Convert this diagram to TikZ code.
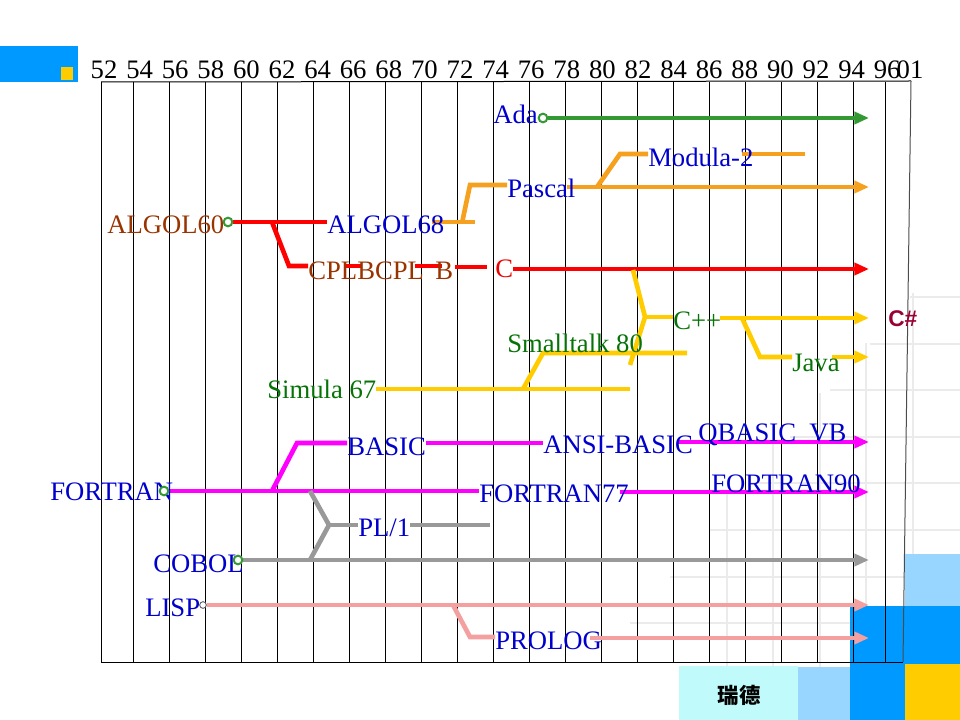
\documentclass[tikz,border=0pt]{standalone}
\usepackage{fontspec}
\setmainfont{Liberation Serif}
\newfontfamily\sharpfont{Liberation Sans}
\newfontfamily\cjkfont{Noto Sans CJK SC}
\usetikzlibrary{arrows.meta}
\definecolor{txtblue}{HTML}{0000CC}
\definecolor{txtbrown}{HTML}{993300}
\definecolor{txtgreen}{HTML}{077307}
\definecolor{txtred}{HTML}{EE0000}
\definecolor{txtsharp}{HTML}{990033}
\definecolor{lgreen}{HTML}{339933}
\definecolor{lorange}{HTML}{F5A01E}
\definecolor{lred}{HTML}{FF0000}
\definecolor{lyellow}{HTML}{FFCC00}
\definecolor{lmagenta}{HTML}{FF00FF}
\definecolor{lgray}{HTML}{999999}
\definecolor{lpink}{HTML}{F5A0A0}
\definecolor{decoblue}{HTML}{0099FF}
\definecolor{decosky}{HTML}{99D6FF}
\definecolor{decocyan}{HTML}{C0FAFA}
\definecolor{decoyellow}{HTML}{FFCC00}
\pgfdeclarelayer{deco}
\pgfdeclarelayer{tracks}
\pgfsetlayers{deco,tracks,main}

\begin{document}
\begin{tikzpicture}[x=.75pt,y=-.75pt,
    lang/.style={anchor=west,inner sep=0pt,font=\fontsize{20}{22}\selectfont},
    year/.style={inner sep=0pt,font=\fontsize{20}{22}\selectfont},
    track/.style={line width=3.5pt},
    arr/.style={track,-{Triangle[length=11pt,width=9pt]}},
    ring/.style={circle,draw=#1,fill=white,line width=1.5pt,minimum size=6.5pt,inner sep=0pt},
    gridline/.style={line width=.75pt},
    faint/.style={black!8,line width=1.5pt}]
  \useasboundingbox (0,0) rectangle (960,720);

  % years along the top
  \foreach \yr [count=\i from 0] in {52,54,...,96}
    \node[year] (yr\yr) at (104+35.6*\i,69.5) {\yr};
  \node[year] (yr01) at (910,69.5) {01};

  % languages
  \node[lang,txtblue] (ada) at (493,114) {Ada};
  \node[lang,txtblue] (modula) at (648,157) {Modula-2};
  \node[lang,txtblue] (pascal) at (507,188) {Pascal};
  \node[lang,txtbrown] (algolsixty) at (107,225) {ALGOL60};
  \node[lang,txtblue] (algolsixtyeight) at (327,225) {ALGOL68};
  \node[lang,txtbrown] (cpl) at (308,271) {CPL};
  \node[lang,txtbrown] (bcpl) at (357,271) {BCPL};
  \node[lang,txtbrown] (b) at (435,271) {B};
  \node[lang,txtred] (c) at (495,269) {C};
  \node[lang,txtgreen] (cpp) at (673,321) {C++};
  \node[lang,txtgreen] (smalltalk) at (507,343) {Smalltalk 80};
  \node[lang,txtgreen] (java) at (792,363) {Java};
  \node[lang,txtgreen] (simula) at (267,389) {Simula 67};
  \node[anchor=west,inner sep=0pt,font=\sharpfont\bfseries\fontsize{17}{19}\selectfont,txtsharp] (csharp) at (888,319) {C\#};
  \node[lang,txtblue] (basic) at (347,447) {BASIC};
  \node[lang,txtblue] (ansibasic) at (543,445) {ANSI-BASIC};
  \node[lang,txtblue] (qbasic) at (698,435) {QBASIC\ \ VB};
  \node[lang,txtblue] (fortran) at (50,492) {FORTRAN};
  \node[lang,txtblue] (fortranss) at (479,494) {FORTRAN77};
  \node[lang,txtblue] (fortrann) at (711,484) {FORTRAN90};
  \node[lang,txtblue] (plone) at (358,528) {PL/1};
  \node[lang,txtblue] (cobol) at (153,564) {COBOL};
  \node[lang,txtblue] (lisp) at (145,608) {LISP};
  \node[lang,txtblue] (prolog) at (495,641) {PROLOG};
  \node[font=\cjkfont\bfseries\fontsize{16}{18}\selectfont] (ruide) at (739,695) {瑞德};

  % start marks
  \node[ring=lgreen] (adadot) at (543,118) {};
  \node[ring=lgreen] (algoldot) at (228,222) {};
  \node[ring=lgreen] (fortrandot) at (164,491) {};
  \node[ring=lgreen] (coboldot) at (238,560) {};
  \node[circle,draw=black!70,fill=white,line width=.6pt,minimum size=5pt,inner sep=0pt] (lispdot) at (203,605) {};

  \begin{pgfonlayer}{deco}
    % faint background grid
    \foreach \k in {0,...,7}
      \draw[faint] (910-40*\k,297+46.6*\k) -- (960,297+46.6*\k);
    \foreach \j in {0,...,4}
      \draw[faint] (913-46.6*\j,293+50*\j) -- (913-46.6*\j,720);
    % corner blocks
    \fill[decoblue] (0,46) rectangle (78,82);
    \fill[decoyellow] (61,67) rectangle (73,80);
    \fill[decocyan] (679,666) rectangle (798,720);
    \fill[decosky] (798,667) rectangle (850,720);
    \fill[decosky] (905,554) rectangle (960,606);
    \fill[decoblue] (850,606) rectangle (960,664);
    \fill[decoblue] (850,664) rectangle (905,720);
    \fill[decoyellow] (905,664) rectangle (960,720);
    % time grid
    \draw[gridline] (101,82) -- (911,81);
    \draw[gridline] (101,82) -- (101,662) -- (903,662);
    \draw[gridline,black!70] (911,81) -- (903,662);
    \foreach \k in {0,...,20}
      \draw[gridline] (133+36*\k,82) -- (133+36*\k,662);
    \draw[gridline] (885,82) -- (885,662);
  \end{pgfonlayer}

  \coordinate (tip) at (869,0);
  \coordinate (fkcpl) at (272,222);
  \coordinate (bdcpl) at (289,266);
  \coordinate (cplend) at (344,266);
  \coordinate (bcplstart) at (362,266);
  \coordinate (bcplend) at (415,266);
  \coordinate (bstart) at (442,266);
  \coordinate (bend) at (455,267);
  \coordinate (cstart) at (487,267);
  \coordinate (algolout) at (432,222);
  \coordinate (algolend) at (475,222);
  \coordinate (fkpascal) at (462,223);
  \coordinate (bdpascal) at (470,185);
  \coordinate (pascalout) at (567,187);
  \coordinate (fkmodula) at (597,187);
  \coordinate (bdmodula) at (620,154);
  \coordinate (modulaout) at (742,154);
  \coordinate (modulaend) at (805,154);
  \coordinate (fkcpp) at (633,270);
  \coordinate (bdcpp) at (645,317);
  \coordinate (frsmall) at (630,365);
  \coordinate (cppout) at (720,318);
  \coordinate (fkjava) at (742,318);
  \coordinate (bdjava) at (760,357);
  \coordinate (javaout) at (832,357);
  \coordinate (fksmall) at (523,389);
  \coordinate (bdsmall) at (543,353);
  \coordinate (smallend) at (687,353);
  \coordinate (fkbasic) at (272,491);
  \coordinate (bdbasic) at (297,443);
  \coordinate (ansiout) at (677,442);
  \coordinate (fortranout) at (620,492);
  \coordinate (fkplone) at (310,491);
  \coordinate (bdplone) at (329,525);
  \coordinate (frcobol) at (310,560);
  \coordinate (ploneend) at (490,525);
  \coordinate (fkprolog) at (453,605);
  \coordinate (bdprolog) at (470,637);
  \coordinate (prologout) at (590,638);

  \begin{pgfonlayer}{tracks}
    % Ada
    \draw[arr,lgreen] (adadot.east) -- (adadot.east -| tip);
    % ALGOL, CPL, BCPL, B, C
    \draw[track,lred] (algoldot.east) -- (algolsixtyeight.west |- algoldot.east);
    \draw[track,lred] (fkcpl) -- (bdcpl) -- (cpl.west |- bdcpl);
    \draw[track,lred] (cplend) -- (bcplstart);
    \draw[track,lred] (bcplend) -- (bstart);
    \draw[track,lred] (bend) -- (cstart);
    \draw[arr,lred] (c.east) -- (c.east -| tip);
    % Pascal, Modula-2
    \draw[track,lorange] (algolout) -- (algolend);
    \draw[track,lorange] (fkpascal) -- (bdpascal) -- (pascal.west |- bdpascal);
    \draw[arr,lorange] (pascalout) -- (pascalout -| tip);
    \draw[track,lorange] (fkmodula) -- (bdmodula) -- (modula.west |- bdmodula);
    \draw[track,lorange] (modulaout) -- (modulaend);
    % Simula, Smalltalk, C++, Java
    \draw[track,lyellow] (simula.east) -- (simula.east -| frsmall);
    \draw[track,lyellow] (fksmall) -- (bdsmall) -- (smallend);
    \draw[track,lyellow] (fkcpp) -- (bdcpp) -- (frsmall);
    \draw[track,lyellow] (bdcpp) -- (cpp.west |- bdcpp);
    \draw[arr,lyellow] (cppout) -- (cppout -| tip);
    \draw[track,lyellow] (fkjava) -- (bdjava) -- (java.west |- bdjava);
    \draw[arr,lyellow] (javaout) -- (javaout -| tip);
    % FORTRAN, BASIC
    \draw[track,lmagenta] (fortrandot.east) -- (fortranss.west |- fortrandot.east);
    \draw[arr,lmagenta] (fortranout) -- (fortranout -| tip);
    \draw[track,lmagenta] (fkbasic) -- (bdbasic) -- (basic.west |- bdbasic);
    \draw[track,lmagenta] (basic.east |- bdbasic) -- (ansibasic.west |- bdbasic);
    \draw[arr,lmagenta] (ansiout) -- (ansiout -| tip);
    % COBOL, PL/1
    \draw[arr,lgray] (coboldot.east) -- (coboldot.east -| tip);
    \draw[track,lgray] (fkplone) -- (bdplone) -- (frcobol);
    \draw[track,lgray] (bdplone) -- (plone.west |- bdplone);
    \draw[track,lgray] (plone.east |- bdplone) -- (ploneend);
    % LISP, PROLOG
    \draw[arr,lpink] (lispdot.east) -- (lispdot.east -| tip);
    \draw[track,lpink] (fkprolog) -- (bdprolog) -- (prolog.west |- bdprolog);
    \draw[arr,lpink] (prologout) -- (prologout -| tip);
  \end{pgfonlayer}
\end{tikzpicture}
\end{document}
